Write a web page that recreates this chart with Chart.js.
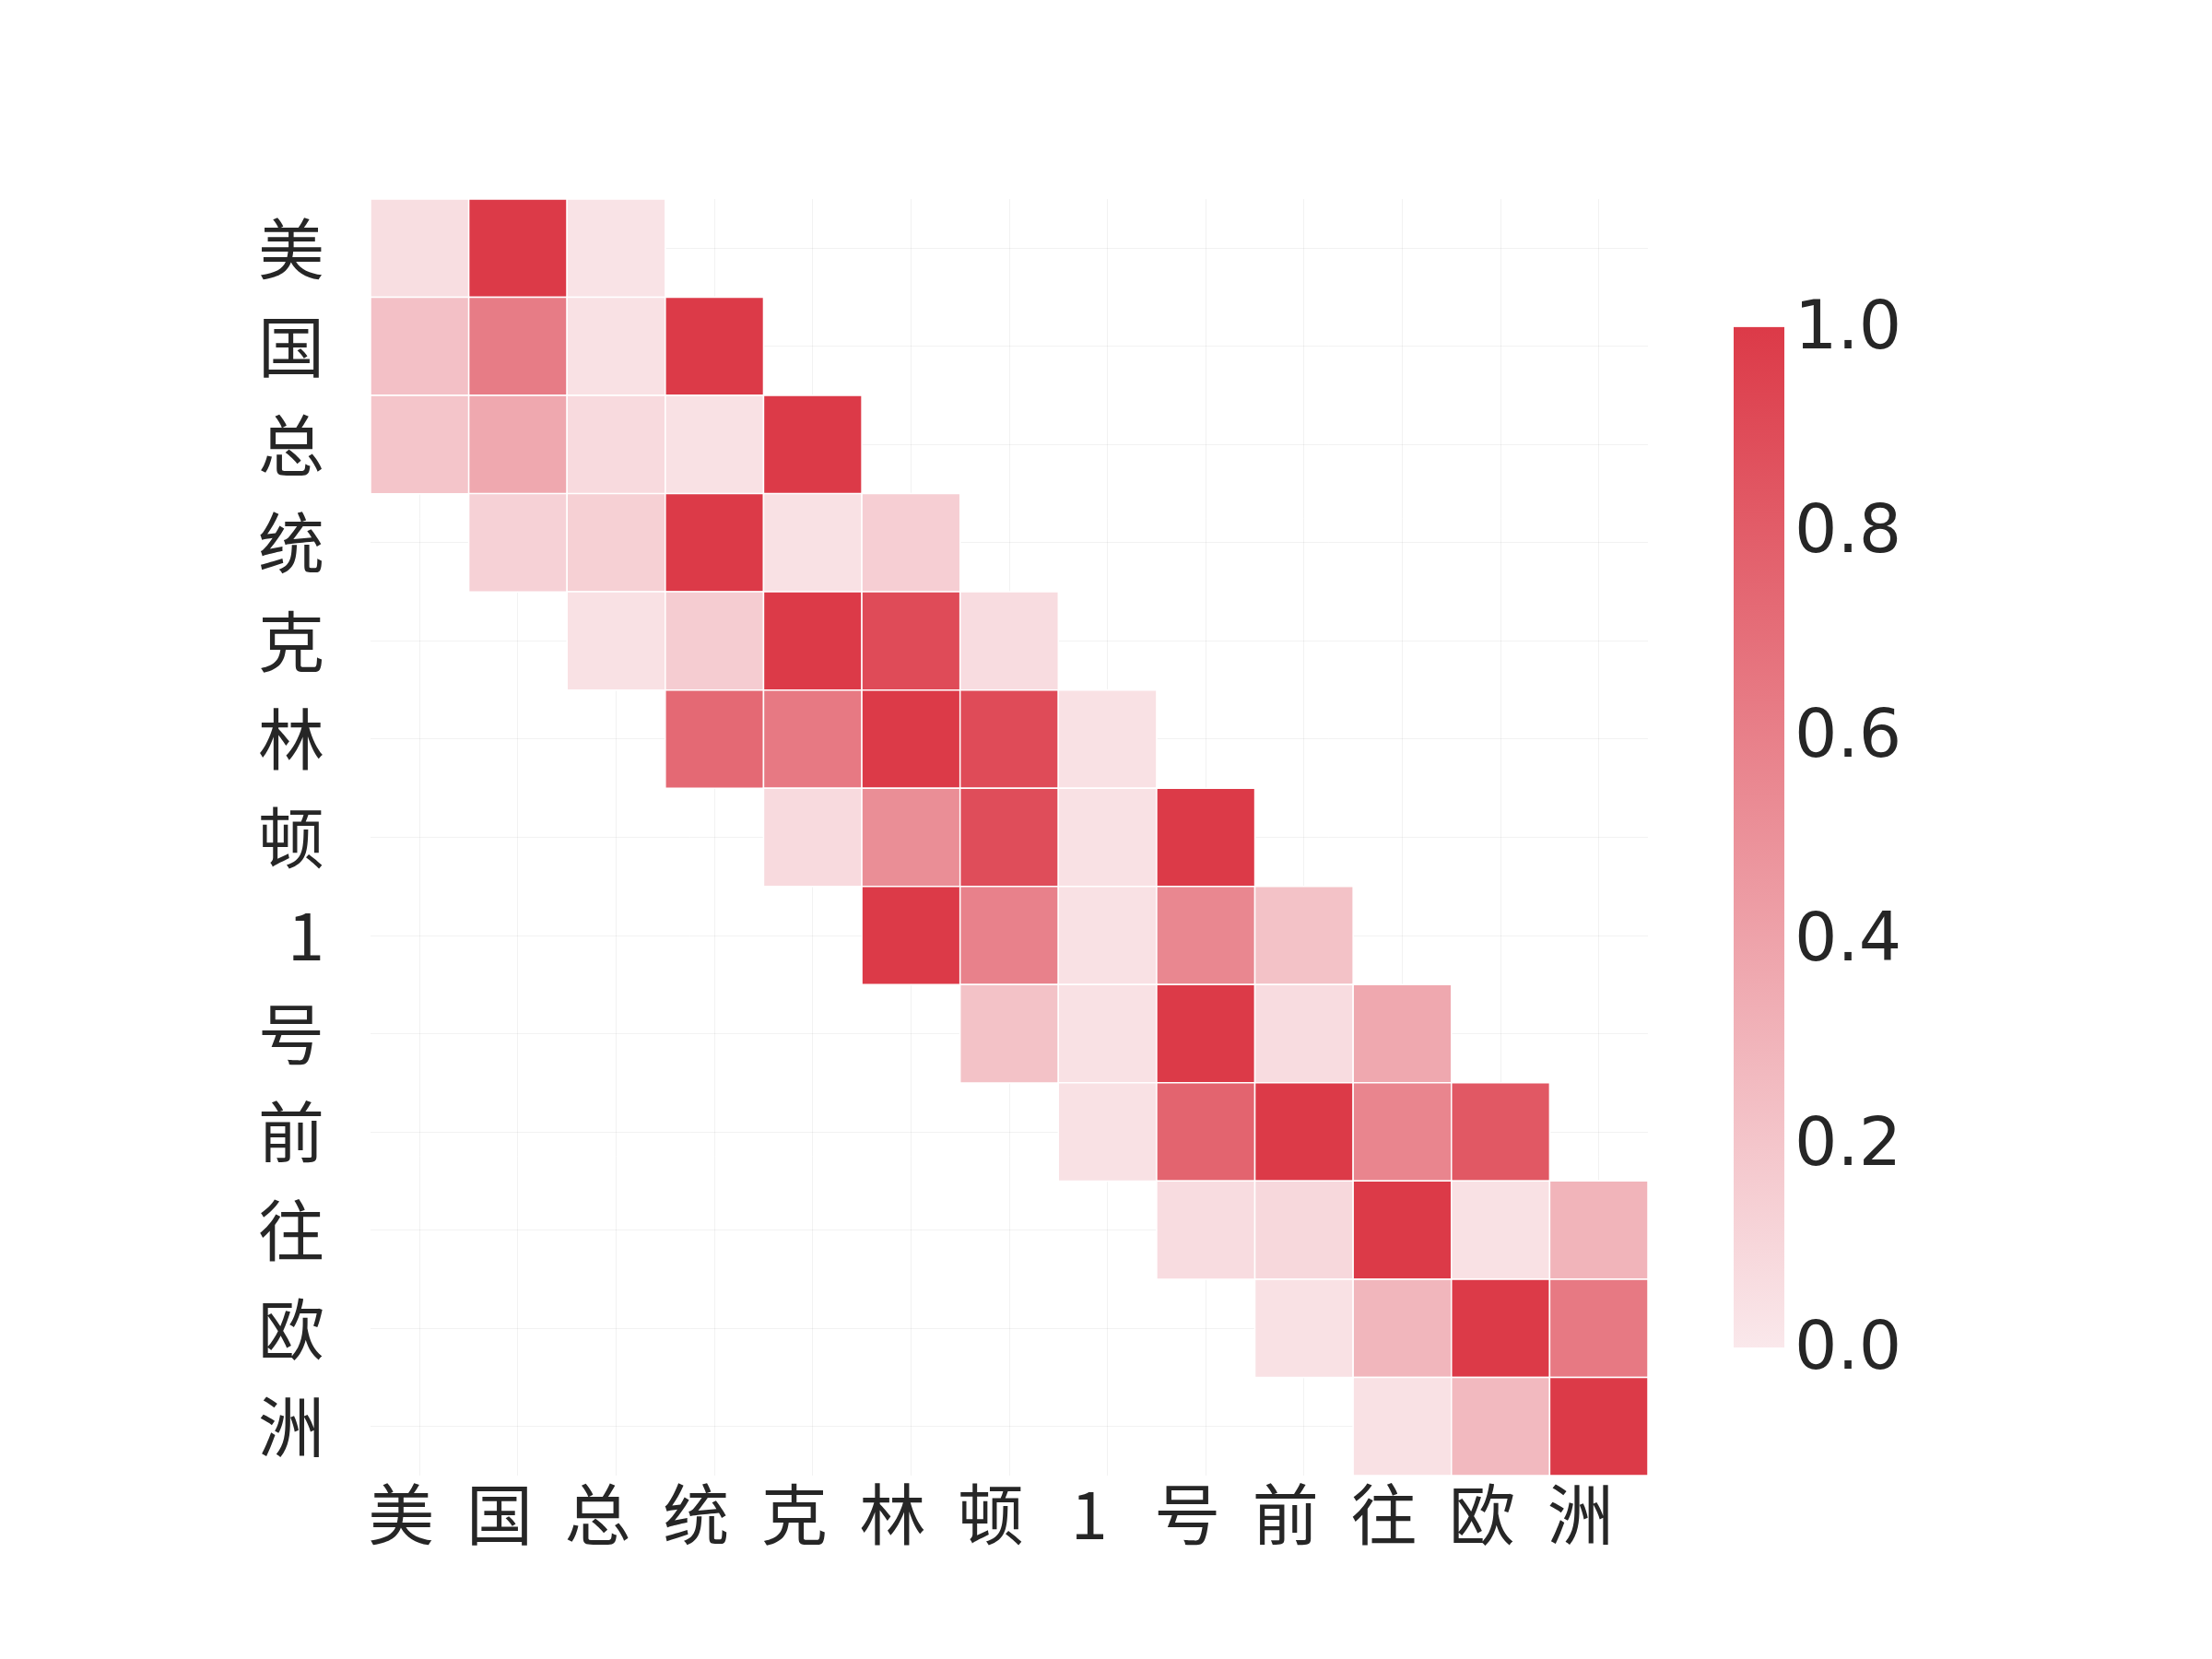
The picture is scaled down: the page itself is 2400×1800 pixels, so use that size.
<!DOCTYPE html>
<html>
<head>
<meta charset="utf-8">
<script src="https://cdn.jsdelivr.net/npm/chart.js@4/dist/chart.umd.min.js"></script>
<style>
  html, body { margin: 0; padding: 0; background: #ffffff; }
  #wrap { position: relative; width: 2400px; height: 1800px; }
  #heatCanvas { position: absolute; left: 0; top: 0; }
  #barCanvas { position: absolute; left: 1860px; top: 300px; }
</style>
</head>
<body>
<div id="wrap">
  <canvas id="heatCanvas" width="2400" height="1800"></canvas>
  <canvas id="barCanvas" width="300" height="1220"></canvas>
</div>
<script>
// tokens on both axes
const tokens = ['美', '国', '总', '统', '克', '林', '顿', '1', '号', '前', '往', '欧', '洲']

// attention weights, one row per token (null = masked)
const row0  = [0.06, 1.00, 0.03, null, null, null, null, null, null, null, null, null, null]
const row1  = [0.23, 0.62, 0.04, 1.00, null, null, null, null, null, null, null, null, null]
const row2  = [0.20, 0.37, 0.08, 0.04, 1.00, null, null, null, null, null, null, null, null]
const row3  = [null, 0.13, 0.14, 1.00, 0.04, 0.15, null, null, null, null, null, null, null]
const row4  = [null, null, 0.04, 0.16, 1.00, 0.90, 0.07, null, null, null, null, null, null]
const row5  = [null, null, null, 0.73, 0.64, 1.00, 0.90, 0.04, null, null, null, null, null]
const row6  = [null, null, null, null, 0.08, 0.52, 0.89, 0.04, 1.00, null, null, null, null]
const row7  = [null, null, null, null, null, 1.00, 0.59, 0.04, 0.56, 0.22, null, null, null]
const row8  = [null, null, null, null, null, null, 0.22, 0.04, 1.00, 0.07, 0.37, null, null]
const row9  = [null, null, null, null, null, null, null, 0.04, 0.76, 1.00, 0.57, 0.83, null]
const row10 = [null, null, null, null, null, null, null, null, 0.07, 0.09, 1.00, 0.04, 0.30]
const row11 = [null, null, null, null, null, null, null, null, null, 0.04, 0.29, 1.00, 0.64]
const row12 = [null, null, null, null, null, null, null, null, null, null, 0.04, 0.27, 1.00]
const rows = [row0, row1, row2, row3, row4, row5, row6, row7, row8, row9, row10, row11, row12]

// colour bar ticks
const cbTicks = [0.0, 0.2, 0.4, 0.6, 0.8, 1.0]

const lowColor = [250, 232, 235]
const highColor = [220, 58, 72]

const colorFor = (v) => {
  const c = lowColor.map((lo, i) => Math.round(lo + (highColor[i] - lo) * v))
  return `rgb(${c[0]}, ${c[1]}, ${c[2]})`
}

const cells = []
rows.forEach((row, r) => {
  row.forEach((v, c) => {
    if (v !== null) cells.push({ x: c, y: r, v: v })
  })
})

const labelColor = '#262626'
const cjkFont = { family: "'Noto Sans CJK SC', 'Noto Sans', sans-serif", size: 72 }

const initHeat = () => {
  const ctx = document.getElementById('heatCanvas').getContext('2d')

  let scales_chart = {
    x: {
      type: 'linear',
      min: -0.5,
      max: 12.5,
      afterBuildTicks: (scale) => { scale.ticks = tokens.map((t, i) => ({ value: i })) },
      afterFit: (scale) => { scale.height = 199 },
      grid: { color: 'rgba(0, 0, 0, 0.05)', lineWidth: 1, drawTicks: false },
      border: { display: false },
      ticks: {
        color: labelColor,
        font: cjkFont,
        padding: -2,
        labelOffset: -20,
        maxRotation: 0,
        autoSkip: false,
        callback: (value) => tokens[value]
      }
    },
    y: {
      type: 'linear',
      reverse: true,
      min: -0.5,
      max: 12.5,
      afterBuildTicks: (scale) => { scale.ticks = tokens.map((t, i) => ({ value: i })) },
      afterFit: (scale) => { scale.width = 402 },
      grid: { color: 'rgba(0, 0, 0, 0.05)', lineWidth: 1, drawTicks: false },
      border: { display: false },
      ticks: {
        color: labelColor,
        font: cjkFont,
        padding: 50,
        autoSkip: false,
        callback: (value) => tokens[value]
      }
    }
  }

  new Chart(ctx, {
    type: 'scatter',
    data: {
      datasets: [{
        data: cells,
        pointStyle: 'rect',
        borderColor: '#ffffff',
        borderWidth: 1.5,
        backgroundColor: (c) => (c.raw ? colorFor(c.raw.v) : '#ffffff'),
        pointRadius: (c) => {
          const xs = c.chart.scales.x
          if (!xs) return 0
          return Math.abs(xs.getPixelForValue(1) - xs.getPixelForValue(0)) / Math.SQRT2
        },
        pointHoverRadius: 0
      }]
    },
    options: {
      responsive: false,
      animation: false,
      devicePixelRatio: 1,
      layout: { padding: { left: 0, top: 216, right: 612, bottom: 0 } },
      plugins: { legend: { display: false }, tooltip: { enabled: false } },
      scales: scales_chart
    }
  })
}

const initBar = () => {
  const ctx = document.getElementById('barCanvas').getContext('2d')

  new Chart(ctx, {
    type: 'bar',
    data: {
      labels: [''],
      datasets: [{
        data: [[cbTicks[0], cbTicks[cbTicks.length - 1]]],
        barPercentage: 1,
        categoryPercentage: 1,
        borderWidth: 0,
        backgroundColor: (c) => {
          const area = c.chart.chartArea
          if (!area) return colorFor(0.5)
          const g = c.chart.ctx.createLinearGradient(0, area.bottom, 0, area.top)
          g.addColorStop(0, colorFor(0))
          g.addColorStop(1, colorFor(1))
          return g
        }
      }]
    },
    options: {
      responsive: false,
      animation: false,
      devicePixelRatio: 1,
      layout: { padding: { left: 21, top: 54, right: 24, bottom: 58 } },
      plugins: { legend: { display: false }, tooltip: { enabled: false } },
      scales: {
        x: { display: false },
        y: {
          position: 'right',
          min: 0,
          max: 1,
          afterBuildTicks: (scale) => { scale.ticks = cbTicks.map((v) => ({ value: v })) },
          afterFit: (scale) => { scale.width = 200 },
          grid: { display: false, drawTicks: false },
          border: { display: false },
          ticks: {
            color: labelColor,
            font: { family: "'DejaVu Sans', sans-serif", size: 73 },
            padding: 11,
            labelOffset: 4,
            callback: (value) => value.toFixed(1)
          }
        }
      }
    }
  })
}

initHeat()
initBar()
</script>
</body>
</html>
